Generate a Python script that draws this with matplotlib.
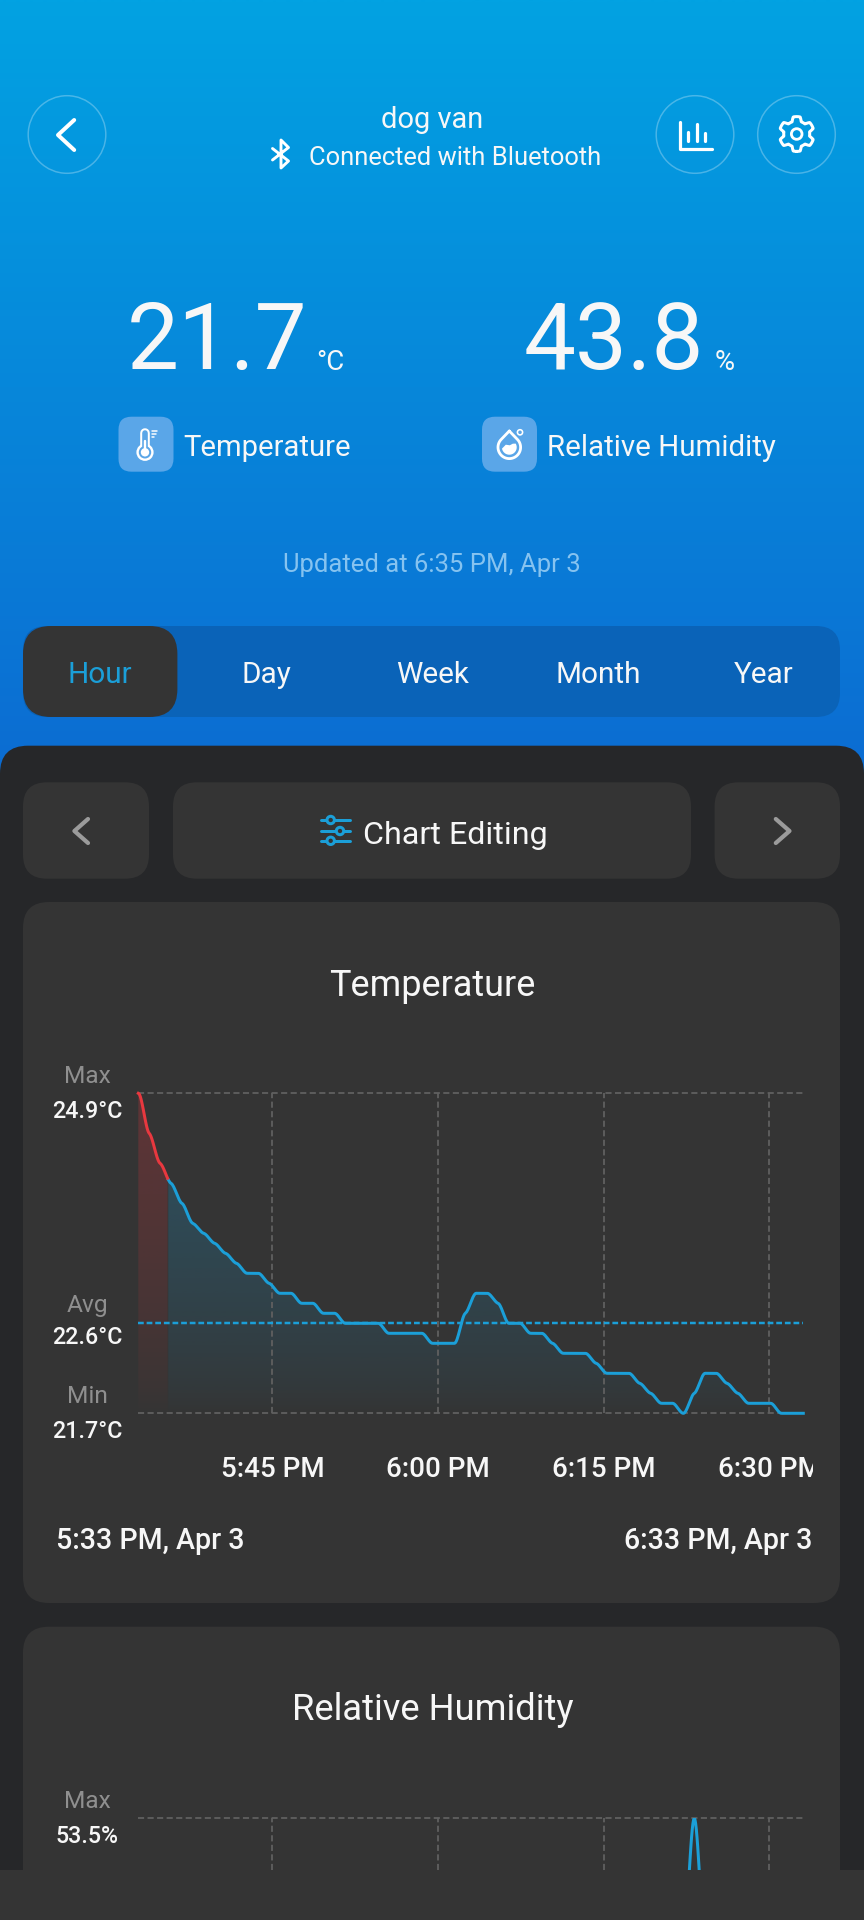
import numpy as np
import matplotlib
matplotlib.use("Agg")
import matplotlib.pyplot as plt
from matplotlib.patches import FancyBboxPatch, Circle, Polygon
from matplotlib.colors import to_rgb
from matplotlib.transforms import Bbox

plt.rcParams['font.family'] = ['Roboto', 'DejaVu Sans']

# ---------- data ----------
temp_values = [24.9, 24.5, 24.2, 24.0, 23.8, 23.6, 23.5, 23.4, 23.3, 23.2, 23.1, 23.1,
               23.0, 22.9, 22.9, 22.8, 22.8, 22.7, 22.7, 22.6, 22.6, 22.6, 22.6, 22.5,
               22.5, 22.5, 22.5, 22.4, 22.4, 22.4, 22.7, 22.9, 22.9, 22.8, 22.6, 22.6,
               22.5, 22.5, 22.4, 22.3, 22.3, 22.3, 22.2, 22.1, 22.1, 22.1, 22.0, 21.9,
               21.8, 21.8, 21.7, 21.9, 22.1, 22.1, 22.0, 21.9, 21.8, 21.8, 21.8, 21.7,
               21.7, 21.7]
temp_max, temp_avg, temp_min = 24.9, 22.6, 21.7
temp_alert_end_min = 2.65
humidity_samples = [50, 51, 52]
humidity_values = [49.5, 53.5, 49.5]
hum_max, hum_visible_low = 53.5, 51.8
tick_minutes = [12.1, 27.05, 42.0, 56.95]
tick_labels = ['5:45 PM', '6:00 PM', '6:15 PM', '6:30 PM']
range_labels = ['5:33 PM, Apr 3', '6:33 PM, Apr 3']
tabs = ['Hour', 'Day', 'Week', 'Month', 'Year']

# ---------- style ----------
W, H = 864, 1920
CARD = '#343434'
PANEL = '#262729'
BLUE = '#1b9fd8'
RED = '#e8383f'
GRID = '#606060'
GREY = '#8f8f8f'
TXT = '#f7f7f7'
ICON = '#5aa6e8'
GRID_DASH = (3.4, 1.9)


def pt(px):
    return px * 0.72


fig = plt.figure(figsize=(W / 100, H / 100), dpi=100, facecolor=PANEL)
ui = fig.add_axes([0, 0, 1, 1], zorder=0)
ui.set_axis_off()

# background gradient
top, bot = np.array(to_rgb('#02a2e2')), np.array(to_rgb('#0c6cd2'))
grad = np.linspace(0, 1, 256)[:, None, None] * (bot - top)[None, None, :] + top[None, None, :]
ui.imshow(grad, extent=(0, W, 775, 0), aspect='auto', zorder=0, interpolation='bilinear')
ui.set_xlim(0, W)
ui.set_ylim(H, 0)


def box(x0, y0, x1, y1, r, color, z=1, **kw):
    p = FancyBboxPatch((x0, y0), x1 - x0, y1 - y0, boxstyle=f'round,pad=0,rounding_size={r}',
                       facecolor=color, edgecolor='none', zorder=z, **kw)
    ui.add_patch(p)
    return p


def stroke(xs, ys, color='white', lw=3.0, z=5, alpha=None):
    ui.plot(xs, ys, color=color, lw=pt(lw), solid_capstyle='round', solid_joinstyle='round',
            zorder=z, alpha=alpha)


def label(x, y, s, size, color=TXT, ha='center', weight='normal', z=6, **kw):
    return ui.text(x, y, s, fontsize=pt(size), color=color, ha=ha, va='baseline',
                   fontweight=weight, zorder=z, **kw)


# panels and cards
box(0, 745.7, W, 2100, 28, PANEL, z=1)
box(23, 626, 840, 717, 24, '#0a63b8', z=1)
box(23, 626, 177.4, 717, 28, CARD, z=2)
box(23, 782.3, 149, 878.7, 24, CARD, z=2)
box(173, 782.3, 691, 878.7, 24, CARD, z=2)
box(714.6, 782.3, 840, 878.7, 24, CARD, z=2)
box(23, 902, 840, 1603, 26, CARD, z=2)
box(23, 1626.7, 840, 2100, 26, CARD, z=2)
ui.add_patch(plt.Rectangle((0, 1870), W, 50, facecolor=CARD, edgecolor='none', zorder=3))

# header buttons
for cx in (67, 695, 796.5):
    ui.add_patch(Circle((cx, 134.5), 38.8, facecolor='none', edgecolor=(1, 1, 1, 0.28),
                        lw=pt(1.5), zorder=3))
stroke([74.2, 58, 74.2], [120, 135, 150], lw=4.0)

# bars icon
stroke([680, 680, 711.5], [122, 148.5, 148.5], lw=3.2)
for bx, by in ((688.4, 131.7), (696.8, 123.5), (705.1, 132.7)):
    stroke([bx, bx], [by, 141], lw=3.2)

# gear icon
th = np.linspace(0, 2 * np.pi, 361)
tooth = np.clip(2.2 * np.cos(6 * th) + 0.2, -1, 1)
gx = 796.7 + (15.2 + 2.2 * tooth) * np.sin(th)
gy = 134.0 + (15.2 + 2.2 * tooth) * np.cos(th)
stroke(gx, gy, lw=3.0)
ui.add_patch(Circle((796.7, 134), 5.3, facecolor='none', edgecolor='white', lw=pt(2.8), zorder=5))

# bluetooth icon
stroke([272.5, 288.5, 281, 281, 288.5, 272.5], [148.5, 161, 168, 140, 147.5, 160], lw=2.9)

label(432.5, 128, 'dog van', 29)
label(309, 165, 'Connected with Bluetooth', 25.5, ha='left')

# current readings
label(127, 369, '21.7', 92.6, ha='left')
label(316, 370, '°C', 27.5, ha='left')
label(523.5, 369, '43.8', 92.6, ha='left')
label(714.5, 370, '%', 27.5, ha='left')

# sensor icons
box(118.5, 416.7, 173.5, 471.7, 13, ICON, z=3)
box(482, 416.7, 537, 471.7, 13, ICON, z=3)
stroke([145, 145], [433, 452], lw=9.6, z=4)
ui.add_patch(Circle((145, 452.3), 8.6, facecolor='white', edgecolor='none', zorder=4))
stroke([145, 145], [433, 452], lw=5.6, color=ICON, z=5)
ui.add_patch(Circle((145, 452.3), 6.2, facecolor=ICON, edgecolor='none', zorder=5))
stroke([145, 145], [441, 452], lw=2.4, z=6)
ui.add_patch(Circle((145, 452.3), 4.2, facecolor='white', edgecolor='none', zorder=6))
for ty, tx in ((430.7, 157.3), (433.7, 155.5), (436.7, 154)):
    stroke([152.3, tx], [ty, ty], lw=1.5)

# droplet icon
dc = np.array([509.3, 447.3])
rd = 11.3
ang = np.radians(np.linspace(44, -224, 90))
dx = np.r_[dc[0], dc[0] + rd * np.cos(ang), dc[0]]
dy = np.r_[431.0, dc[1] - rd * np.sin(ang), 431.0]
stroke(dx, dy, lw=2.8)
wa = np.radians(np.linspace(30, -170, 60))
wx = dc[0] + 7.4 * np.cos(wa)
wy = dc[1] - 7.4 * np.sin(wa)
ui.add_patch(Polygon(np.c_[np.r_[wx, dc[0] - 3.5, dc[0] + 0.5, dc[0] + 3.5],
                           np.r_[wy, dc[1] - 2.6, dc[1] - 2.0, dc[1] - 3.6]],
                     facecolor='white', edgecolor='none', zorder=5))
ui.add_patch(Circle((520, 432.3), 2.6, facecolor='none', edgecolor='white', lw=pt(1.6), zorder=5))

label(183, 456, 'Temperature', 29.3, ha='left')
label(547, 456, 'Relative Humidity', 29.5, ha='left')
label(432, 572, 'Updated at 6:35 PM, Apr 3', 25.6, color='#86c3f0')

# tabs
for cx, t in zip((100, 266.5, 432.5, 598.5, 764), tabs):
    label(cx, 682.7, t, 29.8, color=BLUE if t == 'Hour' else TXT)

# chart editing bar
stroke([88, 74.4, 88], [819, 831, 843], color='#9b9b9b', lw=4.2)
stroke([775.8, 789.5, 775.8], [819, 831, 843], color='#9b9b9b', lw=4.2)
for ly, lx in ((820, 330.7), (831, 340), (840.8, 330.7)):
    stroke([320.5, 349.5], [ly, ly], color=BLUE, lw=3.0)
    ui.add_patch(Circle((lx, ly), 3.7, facecolor=CARD, edgecolor=BLUE, lw=pt(3.0), zorder=6))
label(363, 844, 'Chart Editing', 32.3, ha='left')

label(432.5, 996.5, 'Temperature', 36)
label(432.5, 1720, 'Relative Humidity', 36.4)


def px_axes(x0, y0, x1, y1, z=2):
    ax = fig.add_axes([x0 / W, 1 - y1 / H, (x1 - x0) / W, (y1 - y0) / H], zorder=z)
    ax.patch.set_alpha(0)
    for s in ax.spines.values():
        s.set_visible(False)
    return ax


def stepped_curve(x, y, per=16, tension=0.3):
    """Cubic through the samples with flattened tangents, like the app's stair-like line."""
    x, y = np.asarray(x, float), np.asarray(y, float)
    h, d = np.diff(x), np.diff(y) / np.diff(x)
    m = np.zeros_like(y)
    for i in range(1, len(x) - 1):
        if d[i - 1] * d[i] > 0:
            m[i] = tension * 2 * d[i - 1] * d[i] / (d[i - 1] + d[i])
    xs, ys = [], []
    for i in range(len(h)):
        t = np.linspace(0, 1, per, endpoint=False)
        xs.append(x[i] + t * h[i])
        ys.append((2 * t**3 - 3 * t**2 + 1) * y[i] + (t**3 - 2 * t**2 + t) * h[i] * m[i]
                  + (-2 * t**3 + 3 * t**2) * y[i + 1] + (t**3 - t**2) * h[i] * m[i + 1])
    xs.append([x[-1]])
    ys.append([y[-1]])
    return np.concatenate(xs), np.concatenate(ys)


def gridlines(ax, ymin, ymax, xend=60):
    for m in tick_minutes:
        ax.plot([m, m], [ymin, ymax], color=GRID, lw=pt(1.8), dashes=GRID_DASH, zorder=1, clip_on=False)
    for v in (ymin, ymax):
        ax.plot([0, xend], [v, v], color=GRID, lw=pt(1.8), dashes=GRID_DASH, zorder=1, clip_on=False)


# ---------- temperature chart ----------
ax = px_axes(138.3, 1093.3, 803.3, 1413.3)
mins = np.arange(len(temp_values)) * 60 / (len(temp_values) - 1)
xs, ys = stepped_curve(mins, temp_values)
alpha = ((np.linspace(1, 0, 256)) ** 0.7)[:, None]


def shade(color, amax, mask):
    coll = ax.fill_between(xs[mask], temp_min, ys[mask], facecolor='none', edgecolor='none')
    rgba = np.zeros((256, 1, 4))
    rgba[..., :3] = to_rgb(color)
    rgba[..., 3] = amax * alpha
    im = ax.imshow(rgba, extent=(0, 60, temp_min, temp_max), aspect='auto', zorder=0,
                   interpolation='bilinear')
    im.set_clip_path(coll.get_paths()[0], ax.transData)


red = xs <= temp_alert_end_min
blue = xs >= temp_alert_end_min
shade(RED, 0.24, red)
shade(BLUE, 0.28, blue)

gridlines(ax, temp_min, temp_max)
ax.plot([0, 60], [temp_avg, temp_avg], color=BLUE, lw=pt(2.5), dashes=(2.3, 1.15), zorder=3, clip_on=False)
ax.plot(xs[blue], ys[blue], color=BLUE, lw=pt(3), solid_joinstyle='round', zorder=4, clip_on=False)
ax.plot(xs[red], ys[red], color=RED, lw=pt(3), solid_joinstyle='round', zorder=4, clip_on=False)
ax.set_xlim(0, 60)
ax.set_ylim(temp_min, temp_max)
ax.set_yticks([])
ax.set_xticks(tick_minutes, tick_labels)
ax.tick_params(axis='x', length=0, pad=pt(64), labelsize=pt(27.8), labelcolor=TXT)
clip = Bbox.from_extents(0, 0, 812.7, H)
for t in ax.get_xticklabels():
    t.set_va('baseline')
    t.set_fontweight('medium')
    t.set_clip_box(clip)
    t.set_clip_on(True)


def side_label(axis, val, name, text, d_name, d_val):
    for s, off, c, w, sz in ((name, d_name, GREY, 'normal', 24.5), (text, d_val, TXT, 'medium', 23.2)):
        axis.annotate(s, xy=(0, val), xytext=(pt(87 - 138.3), pt(-off)), textcoords='offset points',
                      ha='center', va='baseline', color=c, fontweight=w, fontsize=pt(sz),
                      annotation_clip=False)


side_label(ax, temp_max, 'Max', f'{temp_max}°C', -10.6, 25)
side_label(ax, temp_avg, 'Avg', f'{temp_avg}°C', -11.3, 21)
side_label(ax, temp_min, 'Min', f'{temp_min}°C', -10.6, 25)

label(56, 1549, range_labels[0], 28.5, ha='left', weight='medium')
label(812, 1549, range_labels[1], 28.5, ha='right', weight='medium')

# ---------- humidity chart (cut off by the bottom bar) ----------
hx = px_axes(138.3, 1818.3, 803.3, 1870)
hm = np.array(humidity_samples) * 60 / (len(temp_values) - 1)
hxs, hys = stepped_curve(hm, humidity_values)
for m in tick_minutes:
    hx.plot([m, m], [hum_visible_low, hum_max], color=GRID, lw=pt(1.8), dashes=GRID_DASH, zorder=1)
hx.plot([0, 60], [hum_max, hum_max], color=GRID, lw=pt(1.8), dashes=GRID_DASH, zorder=1, clip_on=False)
hx.plot(hxs, hys, color=BLUE, lw=pt(3), zorder=4)
hx.set_xlim(0, 60)
hx.set_ylim(hum_visible_low, hum_max)
hx.set_xticks([])
hx.set_yticks([])
side_label(hx, hum_max, 'Max', f'{hum_max}%', -10.6, 25)

fig.savefig('out.png', dpi=100, facecolor=fig.get_facecolor())
